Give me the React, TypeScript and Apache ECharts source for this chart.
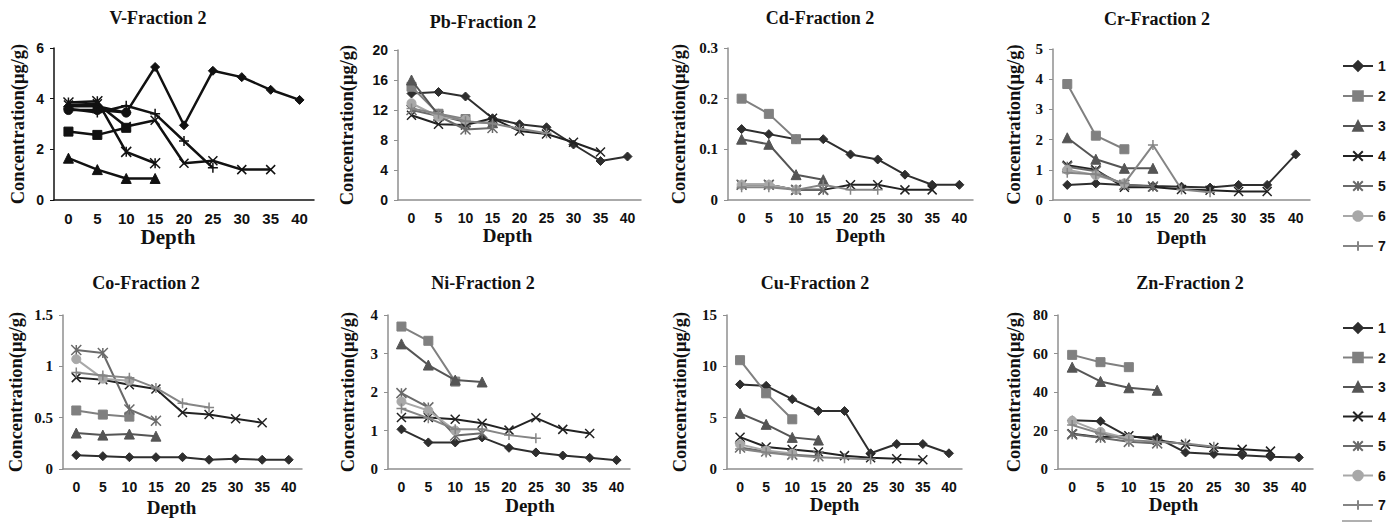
import React, { useEffect, useRef } from "react";
import * as echarts from "echarts";

const depths = ["0", "5", "10", "15", "20", "25", "30", "35", "40"];
const seriesNames = ["1", "2", "3", "4", "5", "6", "7"];

const vData = [
  [3.7, 3.7, 3.45, 5.25, 2.95, 5.1, 4.85, 4.35, 3.95],
  [2.7, 2.57, 2.85],
  [1.65, 1.2, 0.85, 0.85],
  [3.75, 3.8, 2.9, 3.15, 1.45, 1.55, 1.2, 1.2],
  [3.85, 3.9, 1.9, 1.45],
  [3.55, 3.55, 3.45],
  [3.6, 3.45, 3.72, 3.4, 2.33, 1.27],
];
const pbData = [
  [14.2, 14.4, 13.8, 10.9, 10.1, 9.7, 7.4, 5.2, 5.8],
  [15.1, 11.5, 10.8],
  [16.0, 11.3, 10.4, 10.3],
  [11.3, 10.1, 10.0, 10.9, 9.2, 8.8, 7.7, 6.4],
  [12.0, 11.2, 9.4, 9.6],
  [12.9, 11.1, 10.7],
  [12.2, 11.5, 10.5, 10.2, 9.5, 8.9],
];
const cdData = [
  [0.14, 0.13, 0.12, 0.12, 0.09, 0.08, 0.05, 0.03, 0.03],
  [0.2, 0.17, 0.12],
  [0.12, 0.11, 0.05, 0.04],
  [0.03, 0.03, 0.02, 0.02, 0.03, 0.03, 0.02, 0.02],
  [0.03, 0.03, 0.02, 0.02],
  [0.03, 0.03, 0.02],
  [0.025, 0.025, 0.02, 0.03, 0.02, 0.02],
];
const crData = [
  [0.5, 0.55, 0.5, 0.46, 0.44, 0.41, 0.5, 0.5, 1.51],
  [3.84, 2.13, 1.68],
  [2.06, 1.35, 1.05, 1.05],
  [1.15, 1.0, 0.42, 0.43, 0.35, 0.32, 0.28, 0.28],
  [1.1, 0.95, 0.5, 0.45],
  [1.0, 0.82, 0.55],
  [0.9, 0.85, 0.55, 1.82, 0.35, 0.26],
];
const coData = [
  [0.135, 0.125, 0.115, 0.115, 0.115, 0.09, 0.1, 0.09, 0.09],
  [0.57, 0.53, 0.51],
  [0.35, 0.33, 0.34, 0.32],
  [0.89, 0.87, 0.82, 0.78, 0.55, 0.53, 0.49, 0.45],
  [1.16, 1.13, 0.58, 0.47],
  [1.07, 0.88, 0.86],
  [0.94, 0.91, 0.89, 0.79, 0.64, 0.6],
];
const niData = [
  [1.03, 0.69, 0.69, 0.82, 0.55, 0.43, 0.35, 0.29, 0.23],
  [3.7, 3.33, 2.27],
  [3.25, 2.7, 2.31, 2.26],
  [1.34, 1.34, 1.29, 1.19, 1.01, 1.33, 1.03, 0.92],
  [1.97, 1.6, 0.87, 0.93],
  [1.75, 1.52, 1.0],
  [1.57, 1.32, 1.03, 1.03, 0.88, 0.8],
];
const cuData = [
  [8.24, 8.1, 6.8, 5.65, 5.65, 1.53, 2.43, 2.43, 1.53],
  [10.6, 7.37, 4.84],
  [5.42, 4.35, 3.08, 2.82],
  [3.1, 2.15, 1.9, 1.65, 1.3, 1.1, 1.0, 0.9],
  [2.1, 1.7, 1.4, 1.25],
  [2.4, 1.8, 1.5],
  [1.95, 1.6, 1.35, 1.15, 1.05, 0.95],
];
const znData = [
  [25.3, 24.8, 16.7, 16.2, 8.6, 7.8, 7.2, 6.4, 6.0],
  [59.3, 55.5, 52.9],
  [52.9, 45.5, 42.2, 40.9],
  [18.3, 16.5, 17.3, 15.0, 12.8, 11.2, 10.2, 9.3],
  [18.0, 16.2, 14.1, 13.3],
  [25.0, 19.3, 15.9],
  [22.8, 18.4, 15.0, 14.1, 13.3, 11.6],
];

const SYM_X = "path://M0,0L10,10M10,0L0,10";
const SYM_STAR = "path://M0,0L10,10M10,0L0,10M5,0L5,10";
const SYM_PLUS = "path://M0,5L10,5M5,0L5,10";
const symbols = ["diamond", "rect", "triangle", SYM_X, SYM_STAR, "circle", SYM_PLUS];
const symbolSizes = [9, 9, 10, 9, 10, 9, 10];
const grays = ["#2e2e2e", "#808080", "#555555", "#222222", "#6a6a6a", "#a8a8a8", "#858585"];

const SERIF = "'Liberation Serif', 'Times New Roman', serif";
const SANS = "'Liberation Sans', Arial, sans-serif";

const panels = [
  { title: "V-Fraction 2", data: vData, max: 6, interval: 2, grid: [54, 48, 260, 152], tx: 158, ty: 9, gap: 27, dShift: -16, dSize: 21, dGap: 26, tick: 15, ySerif: false, black: true },
  { title: "Pb-Fraction 2", data: pbData, max: 20, interval: 4, grid: [398, 50, 243, 150], tx: 483, ty: 13, gap: 42, dShift: -12, dSize: 19, dGap: 25, tick: 14, ySerif: false, black: false },
  { title: "Cd-Fraction 2", data: cdData, max: 0.3, interval: 0.1, grid: [728, 48, 245, 152], tx: 820, ty: 9, gap: 40, dShift: 10, dSize: 19, dGap: 26, tick: 14, ySerif: true, black: false },
  { title: "Cr-Fraction 2", data: crData, max: 5, interval: 1, grid: [1053, 49, 257, 151], tx: 1157, ty: 10, gap: 30, dShift: 0, dSize: 19, dGap: 28, tick: 14, ySerif: true, black: false },
  { title: "Co-Fraction 2", data: coData, max: 1.5, interval: 0.5, grid: [63, 315, 239, 154], tx: 146, ty: 274, gap: 38, dShift: -11, dSize: 19, dGap: 29, tick: 14, ySerif: true, black: false },
  { title: "Ni-Fraction 2", data: niData, max: 4, interval: 1, grid: [388, 315, 242, 154], tx: 483, ty: 274, gap: 31, dShift: 21, dSize: 19, dGap: 27, tick: 14, ySerif: true, black: false },
  { title: "Cu-Fraction 2", data: cuData, max: 15, interval: 5, grid: [727, 315, 235, 154], tx: 815, ty: 274, gap: 38, dShift: -10, dSize: 19, dGap: 22, tick: 14, ySerif: true, black: false },
  { title: "Zn-Fraction 2", data: znData, max: 80, interval: 20, grid: [1058, 315, 255, 154], tx: 1190, ty: 274, gap: 35, dShift: -12, dSize: 19, dGap: 25, tick: 14, ySerif: true, black: false },
];

function buildOption() {
  const title: any[] = [];
  const grid: any[] = [];
  const xAxis: any[] = [];
  const yAxis: any[] = [];
  panels.forEach((p, i) => {
    title.push({
      text: p.title,
      left: p.tx,
      top: p.ty,
      textAlign: "center",
      padding: 0,
      textStyle: { fontFamily: SERIF, fontWeight: "bold", fontSize: 18, color: "#111" },
    });
    grid.push({ left: p.grid[0], top: p.grid[1], width: p.grid[2], height: p.grid[3], containLabel: false });
    const axisColor = p.black ? "#111" : "#8f8f8f";
    const pad = p.dShift >= 0 ? [0, 0, 0, p.dShift * 2] : [0, -p.dShift * 2, 0, 0];
    xAxis.push({
      type: "category",
      gridIndex: i,
      data: depths,
      boundaryGap: true,
      axisLine: { lineStyle: { color: axisColor, width: 1.5 } },
      axisTick: { show: false },
      axisLabel: { interval: 0, margin: 11, fontFamily: SANS, fontWeight: "bold", fontSize: p.tick, color: "#111" },
      name: "Depth",
      nameLocation: "middle",
      nameGap: p.dGap,
      nameTextStyle: { fontFamily: SERIF, fontWeight: "bold", fontSize: p.dSize, color: "#111", padding: pad },
      splitLine: { show: false },
    });
    yAxis.push({
      type: "value",
      gridIndex: i,
      min: 0,
      max: p.max,
      interval: p.interval,
      axisLine: { show: true, lineStyle: { color: axisColor, width: 1.5 } },
      axisTick: { show: true, length: 4, lineStyle: { color: axisColor } },
      axisLabel: { margin: 10, fontFamily: p.ySerif ? SERIF : SANS, fontWeight: "bold", fontSize: p.ySerif ? 15 : 14, color: "#111" },
      splitLine: { show: false },
      name: "Concentration(μg/g)",
      nameLocation: "middle",
      nameGap: p.gap,
      nameTextStyle: { fontFamily: SERIF, fontWeight: "bold", fontSize: 18.5, color: "#111" },
    });
  });

  const series: any[] = [];
  const order = [1, 2, 3, 4, 5, 6, 7, 0];
  order.forEach((pi) => {
    const p = panels[pi];
    p.data.forEach((vals, si) => {
      const c = p.black ? "#111" : grays[si];
      series.push({
        type: "line",
        name: seriesNames[si],
        xAxisIndex: pi,
        yAxisIndex: pi,
        data: vals,
        symbol: symbols[si],
        symbolSize: symbolSizes[si],
        showAllSymbol: true,
        lineStyle: { color: c, width: p.black ? 2.5 : 2 },
        itemStyle: { color: c, borderColor: c, borderWidth: si === 3 || si === 4 || si === 6 ? 1.5 : 1 },
        emphasis: { disabled: true },
        z: 2 + si,
      });
    });
  });

  const legendBase = {
    orient: "vertical",
    left: 1342,
    itemWidth: 30,
    itemHeight: 12,
    itemGap: 16,
    padding: 0,
    data: seriesNames,
    selectedMode: false,
    textStyle: { fontFamily: SANS, fontWeight: "bold", fontSize: 14, color: "#111", padding: [0, 0, 0, 0] },
  };

  return {
    animation: false,
    backgroundColor: "#ffffff",
    title,
    grid,
    xAxis,
    yAxis,
    series,
    legend: [
      { ...legendBase, top: 59 },
      { ...legendBase, top: 321, itemGap: 15.5 },
    ],
    graphic: [
      { type: "line", shape: { x1: 1342, y1: 521, x2: 1372, y2: 521 }, style: { stroke: "#b0b0b0", lineWidth: 2 } },
    ],
  };
}

export default function App() {
  const ref = useRef<HTMLDivElement | null>(null);
  useEffect(() => {
    document.body.style.margin = "0";
    if (!ref.current) return;
    const chart = echarts.init(ref.current, undefined, { renderer: "svg" });
    chart.setOption(buildOption() as any);
    return () => chart.dispose();
  }, []);
  return <div ref={ref} style={{ width: 1399, height: 524 }} />;
}
